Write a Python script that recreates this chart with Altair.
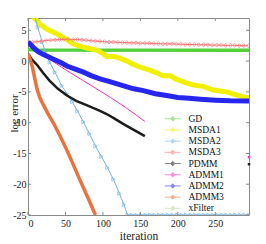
import altair as alt
import pandas as pd

series = ["GD", "MSDA1", "MSDA2", "MSDA3", "PDMM", "ADMM1", "ADMM2", "ADMM3", "xFilter"]
colors = ["#55d03a", "#f0f000", "#74b4e6", "#ff6b6b", "#1c1c1c", "#ff2fb4", "#2626ee", "#e8733f", "#b4d88f"]
widths = [3.5, 5, 1, 1, 2.5, 1, 5, 3.5, 1]

gd_it = [0, 10, 295]
gd_val = [1.9, 1.8, 1.75]

msda1_it = [5, 10, 16, 25, 39, 52, 60, 72, 83, 92, 100, 106, 114, 124, 132, 140, 150, 163, 172, 180, 190, 197, 210, 221, 234, 247, 265, 287, 295]
msda1_val = [7.3, 6.8, 6.0, 5.2, 4.4, 3.5, 2.8, 2.3, 2.0, 1.8, 1.2, 0.7, 0.8, 0.4, 0.0, -0.5, -1.0, -1.5, -1.9, -2.4, -2.4, -2.9, -3.5, -3.9, -4.1, -4.7, -5.0, -5.8, -6.0]

msda2_it = [9, 13, 19, 23, 29, 36, 45, 52, 59, 66, 74, 82, 90, 98, 106, 114, 122, 128, 133,
            139, 145, 151, 157, 163, 169, 175, 181, 187, 193, 199, 205, 211, 217, 223, 229,
            235, 241, 247, 253, 259, 265, 271, 277, 283, 289, 295]
msda2_val = [7.3, 5.5, 3.1, 1.5, -0.2, -1.8, -4.0, -5.3, -6.6, -8.1, -9.9, -11.8, -13.8, -15.5, -17.3, -19.2, -21.5, -23.3, -25.0,
             -25, -25, -25, -25, -25, -25, -25, -25, -25, -25, -25, -25, -25, -25, -25, -25,
             -25, -25, -25, -25, -25, -25, -25, -25, -25, -25, -25]

msda3_it = [0, 6, 12, 18, 24, 30, 36, 42, 48, 54, 60, 66, 72, 78, 84, 90, 96, 102, 108, 114,
            120, 126, 132, 138, 144, 150, 156, 162, 168, 174, 180, 186, 192, 198, 204, 210,
            216, 222, 228, 234, 240, 246, 252, 258, 264, 270, 276, 282, 288, 294]
msda3_val = [3.0, 3.05, 3.15, 3.25, 3.35, 3.4, 3.45, 3.5, 3.55, 3.55, 3.5, 3.5, 3.45, 3.4, 3.3, 3.25, 3.2, 3.15, 3.1, 3.1,
             3.05, 3.0, 3.0, 2.95, 2.95, 2.9, 2.9, 2.9, 2.85, 2.85, 2.8, 2.8, 2.8, 2.75, 2.75, 2.7,
             2.7, 2.7, 2.65, 2.65, 2.65, 2.6, 2.6, 2.6, 2.55, 2.55, 2.55, 2.5, 2.5, 2.5]

pdmm_it = [0, 5, 12, 20, 29, 40, 52, 65, 79, 96, 105, 115, 127, 140, 156]
pdmm_val = [1.2, 0.3, -0.6, -1.9, -3.2, -4.5, -5.6, -6.5, -7.2, -8.1, -8.6, -9.3, -10.2, -11.1, -12.2]

admm1_it = [2, 10, 30, 50, 70, 90, 110, 130, 156]
admm1_val = [2.5, 1.8, 0.2, -1.4, -2.9, -4.4, -5.9, -7.5, -9.8]

admm2_it = [0, 4, 9, 14, 20, 27, 34, 43, 52, 63, 74, 85, 96, 108, 119, 130, 141, 154, 170, 185, 200, 215, 230, 250, 270, 295]
admm2_val = [3.1, 2.6, 2.0, 1.5, 1.1, 0.7, 0.3, -0.2, -0.8, -1.3, -1.8, -2.4, -2.9, -3.3, -3.7, -4.1, -4.5, -4.8, -5.3, -5.6, -5.9, -6.05, -6.2, -6.35, -6.45, -6.5]

admm3_it = [0, 3, 6, 9, 12, 16, 20, 27, 35, 43, 52, 60, 70, 80, 90]
admm3_val = [1.2, 0.2, -1.0, -2.8, -4.5, -6.0, -7.0, -8.6, -10.3, -12.2, -14.5, -16.7, -19.5, -22.2, -25.0]

end_series = ["ADMM1", "PDMM"]
end_it = [295, 295]
end_val = [-15.6, -16.75]

x_ticks = [0, 50, 100, 150, 200, 250]
y_ticks = [-25, -20, -15, -10, -5, 0, 5]

W, H = 221, 197
FONT = "Liberation Serif"

x_scale = alt.Scale(domain=[0, 295], nice=False, zero=False)
y_scale = alt.Scale(domain=[-25, 7], nice=False, zero=False)
color_scale = alt.Scale(domain=series, range=colors)

x_axis = alt.Axis(values=x_ticks, title="iteration", tickSize=0, domain=False, grid=False,
                  labelFont=FONT, labelFontSize=10, labelColor="#222", labelPadding=3,
                  labelExpr="datum.value", titleFont=FONT, titleFontSize=11.5, titleFontWeight="normal",
                  titleColor="#222", titleBaseline="alphabetic", titleY=24)
y_axis = alt.Axis(values=y_ticks, title="log error", tickSize=0, domain=False, grid=False,
                  labelFont=FONT, labelFontSize=10, labelColor="#222", labelPadding=2,
                  labelExpr="datum.value", titleFont=FONT, titleFontSize=11, titleFontWeight="normal",
                  titleColor="#222", titleBaseline="top", titleX=-20, titleY=95)
legend = alt.Legend(title=None, orient="none", legendX=140, legendY=96, padding=0,
                    labelFont=FONT, labelFontSize=9.5, labelColor="#111", rowPadding=0.2,
                    symbolType="M-2,0L-0.55,0M0.55,0L2,0M-0.55,0L0,-0.55L0.55,0L0,0.55Z",
                    symbolSize=64, symbolStrokeWidth=1, symbolOpacity=0.55, labelOffset=11)


def X(field="it"):
    return alt.X(f"{field}:Q", scale=x_scale, axis=x_axis)


def Y(field="val"):
    return alt.Y(f"{field}:Q", scale=y_scale, axis=y_axis)


data = {
    "GD": (gd_it, gd_val), "MSDA1": (msda1_it, msda1_val), "MSDA2": (msda2_it, msda2_val),
    "MSDA3": (msda3_it, msda3_val), "PDMM": (pdmm_it, pdmm_val), "ADMM1": (admm1_it, admm1_val),
    "ADMM2": (admm2_it, admm2_val), "ADMM3": (admm3_it, admm3_val),
}

layers = []
for name, w in zip(series, widths):
    if name not in data:
        continue
    its, vals = data[name]
    df = pd.DataFrame({"it": its, "val": vals, "series": name})
    layers.append(
        alt.Chart(df).mark_line(strokeWidth=w, clip=True).encode(
            x=X(), y=Y(), color=alt.Color("series:N", scale=color_scale, legend=legend)
        )
    )
    if name == "MSDA2":
        layers.append(alt.Chart(df).mark_point(shape="triangle-right", size=14, filled=False,
                                               color="#74b4e6", strokeWidth=1, clip=True).encode(x=X(), y=Y()))
    if name == "MSDA3":
        layers.append(alt.Chart(df).mark_point(shape="diamond", size=16, filled=False,
                                               color="#ff7a7a", strokeWidth=1, clip=True).encode(x=X(), y=Y()))

end_df = pd.DataFrame({"it": end_it, "val": end_val, "series": end_series})
layers.append(alt.Chart(end_df).mark_square(size=6, opacity=1, clip=False).encode(
    x=X(), y=Y(), color=alt.Color("series:N", scale=color_scale, legend=legend)))

ydf = pd.DataFrame({"v": y_ticks})
xdf = pd.DataFrame({"v": x_ticks})
tick_color = "#8a8a8a"
layers.append(alt.Chart(ydf).mark_rule(color=tick_color).encode(y=Y("v"), x=alt.value(0), x2=alt.value(3)))
layers.append(alt.Chart(ydf).mark_rule(color=tick_color).encode(y=Y("v"), x=alt.value(W - 3), x2=alt.value(W)))
layers.append(alt.Chart(xdf).mark_rule(color=tick_color).encode(x=X("v"), y=alt.value(0), y2=alt.value(3)))
layers.append(alt.Chart(xdf).mark_rule(color=tick_color).encode(x=X("v"), y=alt.value(H - 3), y2=alt.value(H)))

chart = alt.layer(*layers).properties(
    width=W, height=H, autosize=alt.AutoSizeParams(type="none"),
    padding={"left": 20, "top": 10, "right": 9, "bottom": 30},
    background="white",
).configure(font=FONT).configure_view(stroke="#8a8a8a", strokeWidth=1)

chart.save("out.html", embed_options={"renderer": "svg", "actions": False})
